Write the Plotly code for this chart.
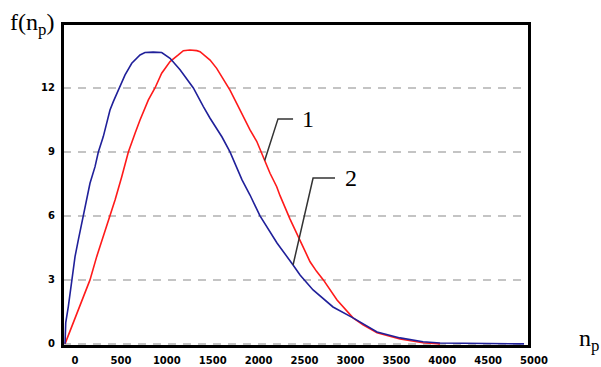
import plotly.graph_objects as go

# Curve 1 (red)
x1 = [0, 73, 145, 236, 272, 345, 417, 490, 545, 618, 690, 763, 817, 908, 980, 1053,
      1144, 1234, 1289, 1360, 1435, 1471, 1580, 1652, 1725, 1797, 1870, 1942, 2015,
      2088, 2160, 2233, 2306, 2342, 2451, 2560, 2669, 2740, 2814, 2963, 3137, 3246,
      3399, 3649, 3900, 4085]
y1 = [0, 0.81, 1.59, 2.69, 3.0, 4.09, 5.03, 6.0, 6.75, 7.84, 9.0, 9.88, 10.5, 11.44,
      12.0, 12.69, 13.24, 13.55, 13.75, 13.78, 13.75, 13.7, 13.31, 12.92, 12.4, 11.9,
      11.28, 10.66, 10.03, 9.5, 8.78, 8.0, 7.37, 6.95, 5.85, 4.85, 3.85, 3.4, 3.0,
      2.06, 1.22, 0.89, 0.52, 0.23, 0.05, 0.0]

# Curve 2 (blue)
x2 = [0, 8, 36, 73, 109, 145, 199, 229, 272, 327, 363, 417, 490, 526, 592, 654, 727,
      817, 871, 960, 1053, 1144, 1253, 1398, 1507, 1580, 1710, 1797, 1928, 2015, 2124,
      2309, 2484, 2560, 2702, 2919, 3137, 3399, 3649, 3900, 4085, 5000]
y2 = [0, 1.0, 1.75, 3.0, 4.09, 4.88, 6.0, 6.75, 7.53, 8.31, 9.0, 9.72, 10.97, 11.36,
      12.0, 12.61, 13.16, 13.55, 13.66, 13.68, 13.66, 13.39, 12.85, 12.0, 11.13, 10.58,
      9.7, 9.0, 7.69, 6.98, 6.0, 4.73, 3.7, 3.23, 2.53, 1.73, 1.22, 0.56, 0.28, 0.1,
      0.04, 0.0]

x_ticks = [0, 500, 1000, 1500, 2000, 2500, 3000, 3500, 4000, 4500, 5000]
y_ticks = [0, 3, 6, 9, 12]

# Leader lines for curve labels
lead1_x = [2175, 2320, 2484]
lead1_y = [8.6, 10.55, 10.55]
lead2_x = [2484, 2702, 2941]
lead2_y = [3.7, 7.78, 7.78]
labels = ["1", "2"]
label_x = [2650, 3115]
label_y = [10.55, 7.78]

fig = go.Figure()
fig.add_trace(go.Scatter(x=x1, y=y1, mode="lines",
                         line=dict(color="#ff1a1a", width=1.6), showlegend=False))
fig.add_trace(go.Scatter(x=x2, y=y2, mode="lines",
                         line=dict(color="#20209a", width=1.6), showlegend=False))
fig.add_trace(go.Scatter(x=lead1_x, y=lead1_y, mode="lines",
                         line=dict(color="#333333", width=1.5), showlegend=False))
fig.add_trace(go.Scatter(x=lead2_x, y=lead2_y, mode="lines",
                         line=dict(color="#333333", width=1.5), showlegend=False))

for t, lx, ly in zip(labels, label_x, label_y):
    fig.add_annotation(x=lx, y=ly, text=t, showarrow=False, xref="x", yref="y",
                       font=dict(family="Liberation Serif", size=24, color="black"))

fig.add_annotation(x=-0.118, y=1.0, xref="paper", yref="paper", text="f(n<sub>p</sub>)",
                   showarrow=False, xanchor="left", yanchor="middle",
                   font=dict(family="Liberation Serif", size=24, color="black"))
fig.add_annotation(x=1.103, y=0.02, xref="paper", yref="paper", text="n<sub>p</sub>",
                   showarrow=False, xanchor="left", yanchor="middle",
                   font=dict(family="Liberation Serif", size=24, color="black"))

# plot frame
fig.add_shape(type="rect", xref="paper", yref="paper", x0=0, x1=1, y0=0, y1=1,
              line=dict(color="black", width=2), layer="above")

tickfont = dict(family="DejaVu Sans", size=10, color="black", weight="bold")

fig.update_xaxes(range=[-22, 5054], tickvals=x_ticks, ticktext=[str(v) for v in x_ticks],
                 showgrid=False, zeroline=False, showline=True, linecolor="black",
                 linewidth=2, mirror=True, ticks="", ticklabelshift=10,
                 ticklabelstandoff=4, tickfont=tickfont, automargin=False)
fig.update_yaxes(range=[-0.1, 15], tickvals=y_ticks, ticktext=[str(v) for v in y_ticks],
                 showgrid=True, gridcolor="#c4c4c4", gridwidth=1.5, griddash="8px,7px",
                 zeroline=False, showline=True, linecolor="black",
                 linewidth=2, mirror=True, ticks="", ticklabelstandoff=4,
                 tickfont=tickfont, automargin=False)

fig.update_layout(width=601, height=367, margin=dict(l=63, r=72, t=24, b=21),
                  plot_bgcolor="white", paper_bgcolor="white")

fig.write_html("out.html", post_script="document.body.style.margin='0';",
               config={"displayModeBar": False})
